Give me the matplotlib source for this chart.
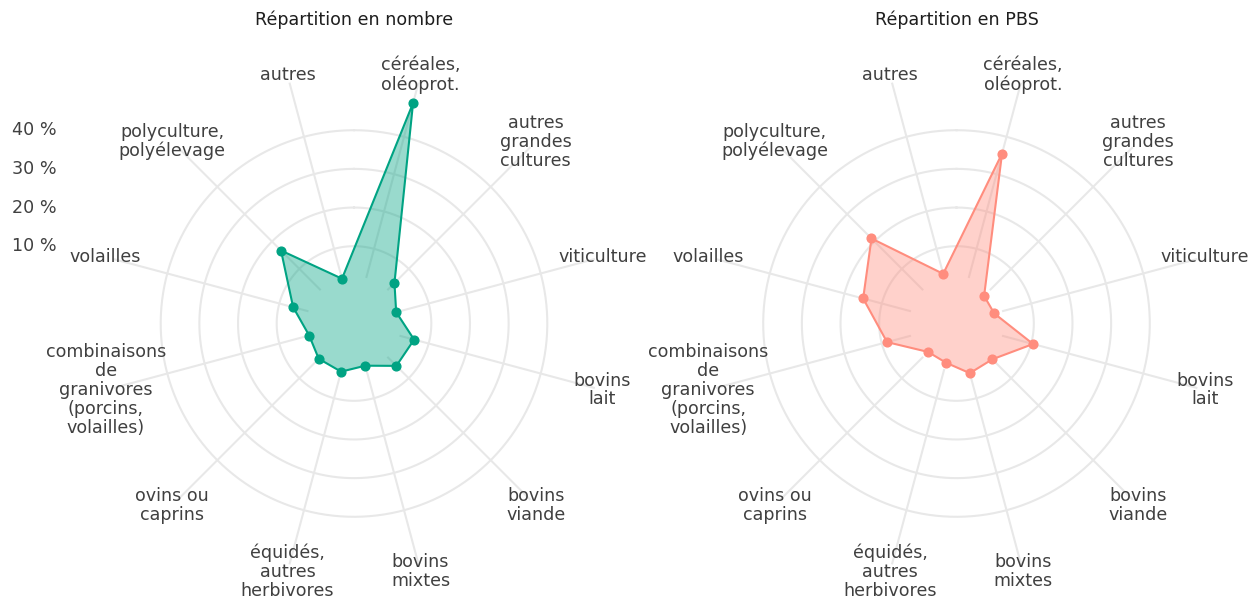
import numpy as np
import matplotlib
matplotlib.use("Agg")
import matplotlib.pyplot as plt
from matplotlib.transforms import IdentityTransform

plt.rcParams["font.family"] = ["DejaVu Sans"]

categories = [
    "céréales,\noléoprot.",
    "autres\ngrandes\ncultures",
    "viticulture",
    "bovins\nlait",
    "bovins\nviande",
    "bovins\nmixtes",
    "équidés,\nautres\nherbivores",
    "ovins ou\ncaprins",
    "combinaisons\nde\ngranivores\n(porcins,\nvolailles)",
    "volailles",
    "polyculture,\npolyélevage",
    "autres",
]
nombre = [49.0, 4.8, 1.3, 6.1, 5.5, 1.3, 2.9, 2.9, 2.0, 6.3, 16.7, 2.0]
pbs = [35.5, 0.1, 0.1, 10.5, 3.1, 3.3, 0.5, 0.4, 8.6, 15.0, 21.1, 3.3]
series = [nombre, pbs]
titles = ["Répartition en nombre", "Répartition en PBS"]
colors = ["#00A383", "#FF8D7E"]
ring_values = [10, 20, 30, 40]
ring_labels = ["10 %", "20 %", "30 %", "40 %"]

W, H = 1258, 603
fig = plt.figure(figsize=(W / 100, H / 100), dpi=100)
fig.patch.set_facecolor("white")

rmin, rmax = -10, 58
px_per_unit = 3.866
R = px_per_unit * (rmax - rmin)
centers = [(354, 323.5), (956.5, 323.5)]

n = len(categories)
theta = np.deg2rad(15 + 30 * np.arange(n))
grid_color = "#E8E8E8"
text_color = "#404040"
fs = 12.6

axes = []
for k, (cx, cy) in enumerate(centers):
    ax = fig.add_axes([(cx - R) / W, (H - cy - R) / H, 2 * R / W, 2 * R / H],
                      projection="polar")
    ax.set_theta_zero_location("N")
    ax.set_theta_direction(-1)
    ax.set_ylim(rmin, rmax)
    ax.set_axis_off()
    axes.append(ax)

    t = np.linspace(0, 2 * np.pi, 500)
    for v in ring_values:
        ax.plot(t, np.full_like(t, v), color=grid_color, lw=1.5, zorder=1)
    for th in theta:
        ax.plot([th, th], [2.2, 54.5], color=grid_color, lw=1.5, zorder=1,
                solid_capstyle="butt")

    vals = np.array(series[k])
    tc = np.append(theta, theta[0])
    vc = np.append(vals, vals[0])
    ax.fill(tc, vc, color=colors[k], alpha=0.4, lw=0, zorder=2)
    ax.plot(tc, vc, color=colors[k], lw=1.5, zorder=3)
    ax.plot(theta, vals, "o", ms=6.3, color=colors[k], zorder=4, clip_on=False)

    for th, lab in zip(theta, categories):
        ax.text(th, 56.5, lab, ha="center", va="center", fontsize=fs,
                color=text_color, linespacing=1.06, clip_on=False)

    fig.text(cx / W, 1 - 20 / H, titles[k], ha="center", va="center",
             fontsize=fs, color="#1E1E1E")

# radial labels on the left chart
for v, lab in zip(ring_values, ring_labels):
    x, y = axes[0].transData.transform((0, v))
    fig.text(57, y, lab, transform=IdentityTransform(), ha="right",
             va="center", fontsize=fs, color=text_color)

fig.savefig("out.png", dpi=100, facecolor="white")
